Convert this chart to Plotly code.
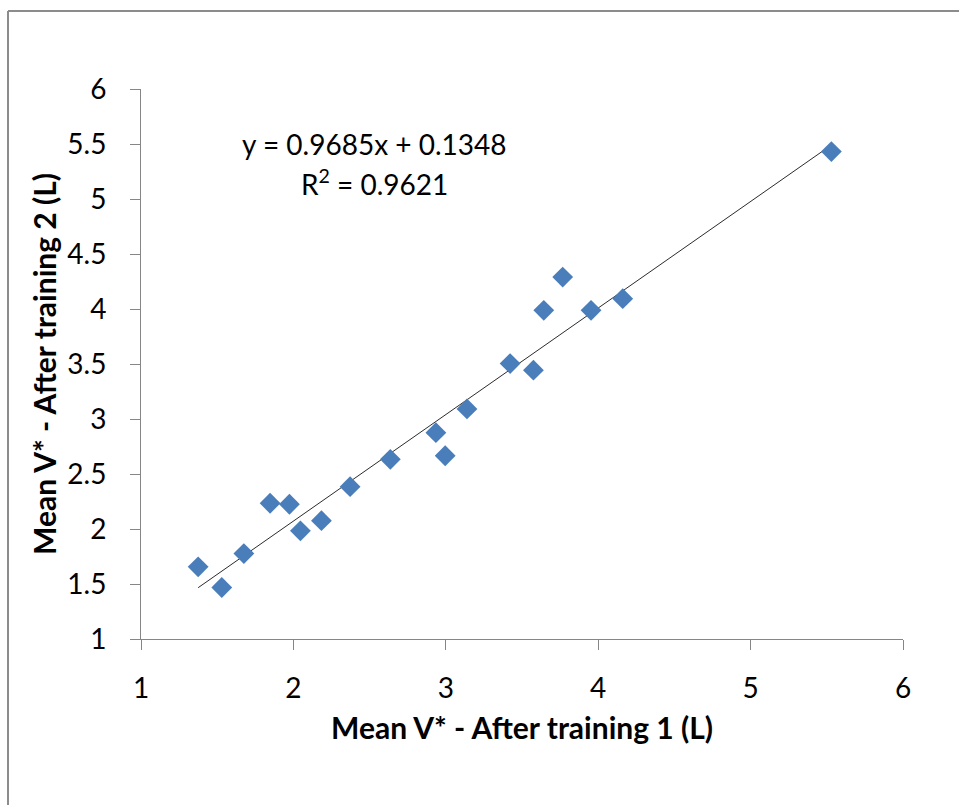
import plotly.graph_objects as go

# Data
after_training_1 = [1.375, 1.53, 1.675, 1.847, 1.974, 2.046, 2.184, 2.372, 2.636,
                    2.935, 2.996, 3.139, 3.422, 3.575, 3.643, 3.767, 3.953, 4.161, 5.530]
after_training_2 = [1.656, 1.468, 1.777, 2.234, 2.225, 1.983, 2.076, 2.385, 2.633,
                    2.876, 2.666, 3.092, 3.504, 3.444, 3.988, 4.290, 3.988, 4.094, 5.431]
slope = 0.9685
intercept = 0.1348
r_squared = 0.9621
x_ticks = [1, 2, 3, 4, 5, 6]
y_ticks = [1, 1.5, 2, 2.5, 3, 3.5, 4, 4.5, 5, 5.5, 6]

FONT = "Lato, Roboto, sans-serif"
AXIS_GREY = "#868686"

x_min, x_max = min(after_training_1), max(after_training_1)
trend_x = [x_min, x_max]
trend_y = [slope * v + intercept for v in trend_x]

fig = go.Figure()
fig.add_trace(go.Scatter(x=trend_x, y=trend_y, mode="lines",
                         line=dict(color="#2b2b2b", width=1), hoverinfo="skip"))
fig.add_trace(go.Scatter(x=after_training_1, y=after_training_2, mode="markers",
                         marker=dict(symbol="diamond", size=16, color="#4A7EBB",
                                     line=dict(width=0))))

fig.add_annotation(x=2.532, y=5.504, xref="x", yref="y", showarrow=False,
                   text=f"y = {slope}x + {intercept}",
                   font=dict(family=FONT, size=28, color="#000000"))
fig.add_annotation(x=2.532, y=5.15, xref="x", yref="y", showarrow=False,
                   text=f"R<sup>2</sup> = {r_squared}",
                   font=dict(family=FONT, size=28, color="#000000"))

# axis titles
fig.add_annotation(x=0.5, y=0, xref="paper", yref="paper", showarrow=False,
                   yanchor="middle", yshift=-88,
                   text="<b>Mean V* - After training 1 (L)</b>",
                   font=dict(family=FONT, size=30, color="#000000"))
fig.add_annotation(x=0, y=0.5, xref="paper", yref="paper", showarrow=False,
                   xanchor="center", xshift=-97, textangle=-90,
                   text="<b>Mean V* - After training 2 (L)</b>",
                   font=dict(family=FONT, size=30, color="#000000"))

# outer chart frame (top and left edges visible)
fig.add_shape(type="line", xref="paper", yref="paper", xsizemode="pixel", ysizemode="pixel",
              xanchor=0, yanchor=0, x0=-133, x1=1000, y0=628, y1=628,
              line=dict(color="#8c8c8c", width=2))
fig.add_shape(type="line", xref="paper", yref="paper", xsizemode="pixel", ysizemode="pixel",
              xanchor=0, yanchor=0, x0=-133, x1=-133, y0=628, y1=-400,
              line=dict(color="#8c8c8c", width=2))

fig.update_xaxes(range=[1, 6], tickvals=x_ticks, showline=True, linecolor=AXIS_GREY,
                 linewidth=1, ticks="outside", ticklen=10, tickcolor=AXIS_GREY,
                 showgrid=False, zeroline=False, ticklabelstandoff=14,
                 tickfont=dict(family=FONT, size=28, color="#000000"))
fig.update_yaxes(range=[1, 6], tickvals=y_ticks, showline=True, linecolor=AXIS_GREY,
                 linewidth=1, ticks="outside", ticklen=10, tickcolor=AXIS_GREY,
                 showgrid=False, zeroline=False, ticklabelstandoff=18,
                 tickfont=dict(family=FONT, size=28, color="#000000"))

fig.update_layout(width=959, height=805, showlegend=False,
                  margin=dict(l=141, r=56, t=89, b=166),
                  paper_bgcolor="white", plot_bgcolor="white")

fig.write_html("out.html", config={"displayModeBar": False},
               post_script="document.body.style.margin='0';document.body.style.overflow='hidden';")
